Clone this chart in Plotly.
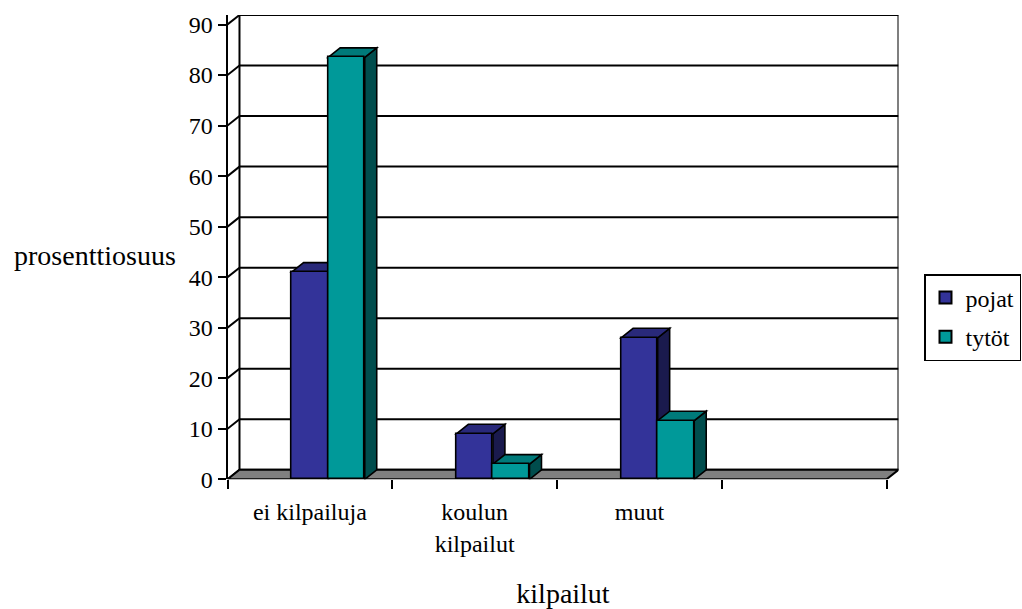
import numpy as np
import plotly.graph_objects as go

# ---- data ----
categories = ["ei kilpailuja", "koulun<br>kilpailut", "muut", ""]
pojat = [41, 9, 28, None]
tytot = [83.5, 3, 11.6, None]
series_names = ["pojat", "tytöt"]
y_ticks = [0, 10, 20, 30, 40, 50, 60, 70, 80, 90]

# ---- style ----
FONT = "Liberation Serif, Times New Roman, serif"
W, H = 1022, 609
BW = 0.222          # bar width in category units
DDX = 0.0728        # depth offset (x, category units)
DDY = 1.88          # depth offset (y, value units)
YMAX = 90
front_cols = ["#333399", "#009999"]
top_cols = ["#29297a", "#007a7a"]
side_cols = ["#1a1a4d", "#004d4d"]
LW = 1.6

idx = np.arange(len(categories))
x_lo, x_hi = -0.5, len(categories) - 0.5

# plot area in pixels
px_left, px_right = 227.5, 898.5
px_top, px_bottom = 15.0, 479.3

fig = go.Figure()

shapes = []
def poly(pts, fill, width=LW):
    path = "M " + " L ".join(f"{x},{y}" for x, y in pts) + " Z"
    shapes.append(dict(type="path", path=path, xref="x", yref="y",
                       fillcolor=fill, line=dict(color="black", width=width),
                       layer="below"))
def seg(x0, y0, x1, y1, width=2):
    shapes.append(dict(type="line", x0=x0, y0=y0, x1=x1, y1=y1, xref="x", yref="y",
                       line=dict(color="black", width=width), layer="below"))

# back wall gridlines and left wall diagonals
for v in y_ticks:
    seg(x_lo + DDX, v + DDY, x_hi + DDX, v + DDY)
    seg(x_lo, v, x_lo + DDX, v + DDY)
seg(x_lo + DDX, DDY, x_lo + DDX, YMAX + DDY)
seg(x_hi + DDX, DDY, x_hi + DDX, YMAX + DDY)
# floor
poly([(x_lo, 0), (x_hi, 0), (x_hi + DDX, DDY), (x_lo + DDX, DDY)], "#808080", 2)

# 3D side and top faces
for s, vals in enumerate([pojat, tytot]):
    for i, v in enumerate(vals):
        if v is None:
            continue
        x0 = idx[i] + s * BW - BW / 2
        x1 = x0 + BW
        poly([(x1, 0), (x1 + DDX, DDY), (x1 + DDX, v + DDY), (x1, v)], side_cols[s])
        poly([(x0, v), (x0 + DDX, v + DDY), (x1 + DDX, v + DDY), (x1, v)], top_cols[s])

for s, vals in enumerate([pojat, tytot]):
    fig.add_trace(go.Bar(
        x=idx + s * BW, y=vals, width=BW, name=series_names[s],
        marker=dict(color=front_cols[s], line=dict(color="black", width=LW)),
        legendgroup=series_names[s],
    ))

fig.update_layout(
    width=W, height=H, autosize=False,
    margin=dict(l=0, r=0, t=0, b=0),
    paper_bgcolor="white", plot_bgcolor="white",
    barmode="overlay", bargap=0,
    font=dict(family=FONT, color="black", size=24),
    shapes=shapes,
    showlegend=True,
    legend=dict(x=1021 / W, xanchor="right", y=1 - 274 / H, yanchor="top",
                bordercolor="black", borderwidth=1.5, bgcolor="white",
                font=dict(family=FONT, size=24, color="black"), tracegroupgap=5,
                itemsizing="constant"),
    xaxis=dict(domain=[px_left / W, px_right / W], range=[x_lo, x_hi + DDX],
               tickvals=idx, ticktext=categories, ticks="", showline=False,
               showgrid=False, zeroline=False, ticklabelstandoff=16,
               tickfont=dict(size=24, family=FONT, color="black"),
               minor=dict(tickvals=list(np.arange(len(categories) + 1) - 0.5),
                          ticks="outside", ticklen=9, tickwidth=1.5,
                          tickcolor="black", showgrid=False),
               title=dict(text="kilpailut", font=dict(size=28, family=FONT, color="black"),
                          standoff=30),
               automargin=False, fixedrange=True),
    yaxis=dict(domain=[1 - px_bottom / H, 1 - px_top / H], range=[0, YMAX + DDY],
               tickvals=y_ticks, ticks="outside", ticklen=8, tickwidth=1.5,
               tickcolor="black", showline=True, linecolor="black", linewidth=2,
               showgrid=False, zeroline=False,
               tickfont=dict(size=24, family=FONT, color="black"),
               automargin=False, fixedrange=True),
    annotations=[dict(text="prosenttiosuus", x=95 / W, y=1 - 256 / H,
                      xref="paper", yref="paper", showarrow=False,
                      xanchor="center", yanchor="middle",
                      font=dict(size=28, family=FONT, color="black"))],
)

fig.write_html("out.html")
